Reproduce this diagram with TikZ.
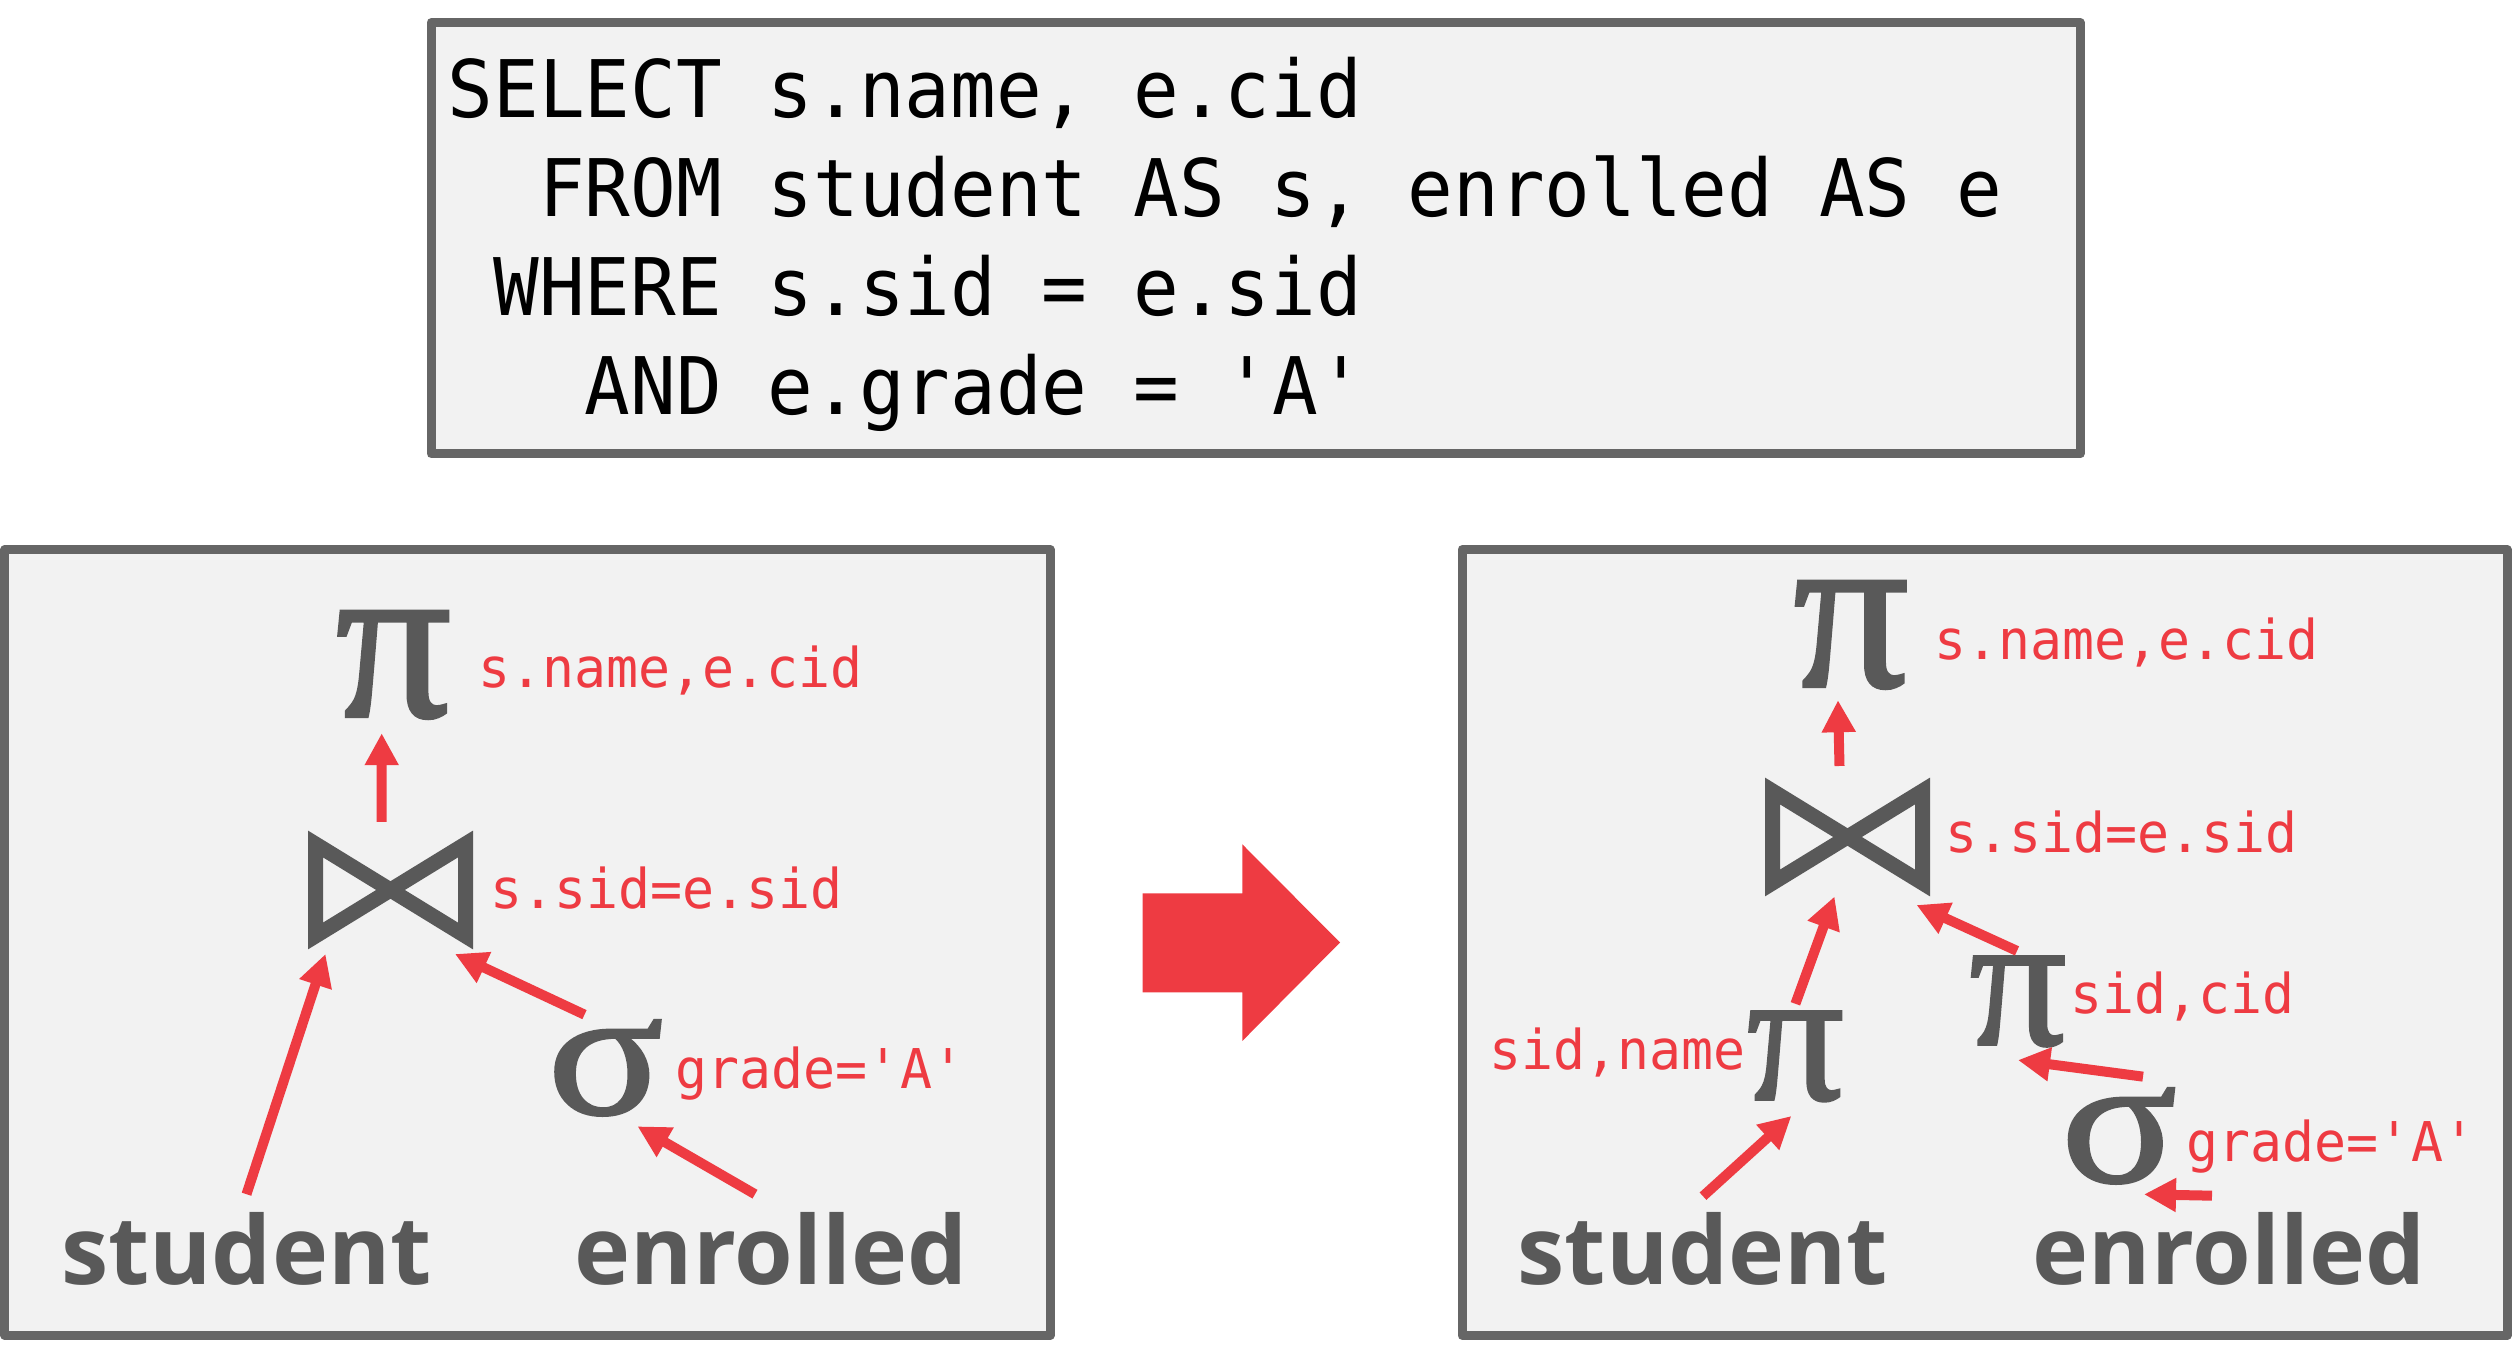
\documentclass[tikz,border=0pt]{standalone}
\usepackage{fontspec}
\newfontfamily\codefont[FakeStretch=0.956]{DejaVu Sans Mono}
\newfontfamily\condfont[FakeStretch=0.97]{DejaVu Sans Mono}
\newfontfamily\relfont{Open Sans}
\newfontfamily\opfont[FakeBold=1.5]{Liberation Serif}
\newfontfamily\selfont[FakeBold=1.5, FakeStretch=1.18]{Liberation Serif}
\usetikzlibrary{arrows.meta}
\definecolor{boxgray}{HTML}{666666}
\definecolor{opgray}{HTML}{595959}
\definecolor{boxfill}{HTML}{F2F2F2}
\definecolor{hlred}{HTML}{EE3B42}
\tikzset{
  panel/.style={draw=boxgray, fill=boxfill, line width=0.09cm, line join=round, inner sep=0pt},
  op/.style={text=opgray, inner sep=0pt, font=\opfont\fontsize{65}{65}\selectfont},
  subop/.style={op, font=\opfont\fontsize{54.5}{54.5}\selectfont},
  selop/.style={op, font=\selfont\fontsize{52}{52}\selectfont},
  joinop/.style={minimum width=1.5cm, minimum height=0.92cm, inner sep=0pt, outer sep=0pt},
  cond/.style={text=hlred, inner sep=0pt, anchor=base west, font=\condfont\fontsize{15.6}{18}\selectfont},
  rel/.style={text=opgray, inner sep=0pt, anchor=base, font=\relfont\bfseries\fontsize{27}{27}\selectfont},
  arrow/.style={-{Triangle[length=0.32cm, width=0.32cm]}, line width=0.1cm, draw=hlred}
}
\begin{document}
\begin{tikzpicture}
  \useasboundingbox (0,0) rectangle (25.19,13.65);

  % SQL query
  \node[panel, minimum width=16.49cm, minimum height=4.315cm] (sqlbox) at (12.555,11.2675) {};
  \node[anchor=base west, align=left, inner sep=0pt,
        font=\codefont\fontsize{22.6}{28.2}\selectfont] (sql) at (4.47,9.50)
    {SELECT s.name, e.cid\\
     \phantom{SE}FROM student AS s, enrolled AS e\\
     \phantom{S}WHERE s.sid = e.sid\\
     \phantom{SEL}AND e.grade = \textquotesingle A\textquotesingle};

  % Panels
  \node[panel, minimum width=10.45cm, minimum height=7.86cm] (before) at (5.275,4.225) {};
  \node[panel, minimum width=10.45cm, minimum height=7.86cm] (after) at (19.845,4.225) {};

  % Big arrow
  \fill[hlred] (11.427,4.717) -- (12.423,4.717) -- (12.423,5.207) -- (13.40,4.225)
    -- (12.423,3.24) -- (12.423,3.727) -- (11.427,3.727) -- cycle;

  % Left plan
  \node[op] (piL) at (3.935,7.00) {π};
  \node[cond] (nameL) at (4.78,6.77) {s.name,e.cid};
  \node[joinop] (joinL) at (3.905,4.75) {};
  \node[cond] (condL) at (4.90,4.56) {s.sid=e.sid};
  \node[selop] (sigL) at (6.055,2.97) {σ};
  \node[cond] (gradeL) at (6.75,2.76) {grade=\textquotesingle A\textquotesingle};
  \node[rel] (stuL) at (2.465,0.80) {student};
  \node[rel] (enrL) at (7.71,0.80) {enrolled};

  % Right plan
  \node[op] (piR) at (18.51,7.30) {π};
  \node[cond] (nameR) at (19.34,7.05) {s.name,e.cid};
  \node[joinop] (joinR) at (18.475,5.28) {};
  \node[cond] (condR) at (19.45,5.12) {s.sid=e.sid};
  \node[subop] (pisn) at (17.954,3.086) {π};
  \node[cond, anchor=base east] (snR) at (17.46,2.95) {sid,name};
  \node[subop] (pisc) at (20.18,3.635) {π};
  \node[cond] (scR) at (20.70,3.51) {sid,cid};
  \node[selop] (sigR) at (21.19,2.29) {σ};
  \node[cond] (gradeR) at (21.86,2.035) {grade=\textquotesingle A\textquotesingle};
  \node[rel] (stuR) at (17.03,0.80) {student};
  \node[rel] (enrR) at (22.29,0.80) {enrolled};

  % Join symbols
  \foreach \j in {joinL,joinR}
    \draw[opgray, line width=0.15cm]
      (\j.north west) -- (\j.south east) -- (\j.north east) -- (\j.south west) -- cycle;

  % Arrows, left
  \draw[arrow] ([shift={(-0.088,0.22)}]joinL.north) -- ([shift={(-0.118,-0.14)}]piL.south);
  \draw[arrow] ([yshift=0.18cm]stuL.north) -- ([shift={(0.10,-0.18)}]joinL.south west);
  \draw[arrow] ([shift={(-0.21,0.05)}]sigL.north) -- ([shift={(-0.105,-0.18)}]joinL.south east);
  \draw[arrow] ([shift={(-0.16,0.18)}]enrL.north) -- ([shift={(0.32,-0.10)}]sigL.south);

  % Arrows, right
  \draw[arrow] ([shift={(-0.08,0.25)}]joinR.north) -- ([shift={(-0.13,-0.11)}]piR.south);
  \draw[arrow] ([yshift=0.16cm]stuR.north) -- ([shift={(-0.04,-0.14)}]pisn.south);
  \draw[arrow] ([yshift=0.07cm]pisn.north) -- ([shift={(-0.13,-0.135)}]joinR.south);
  \draw[arrow] ([shift={(-0.01,0.05)}]pisc.north) -- ([shift={(-0.06,-0.22)}]joinR.south east);
  \draw[arrow] ([shift={(0.24,0.11)}]sigR.north) -- ([yshift=-0.13cm]pisc.south);
  \draw[arrow] ([shift={(-0.17,0.165)}]enrR.north) -- ([shift={(0.25,-0.10)}]sigR.south);
\end{tikzpicture}
\end{document}
